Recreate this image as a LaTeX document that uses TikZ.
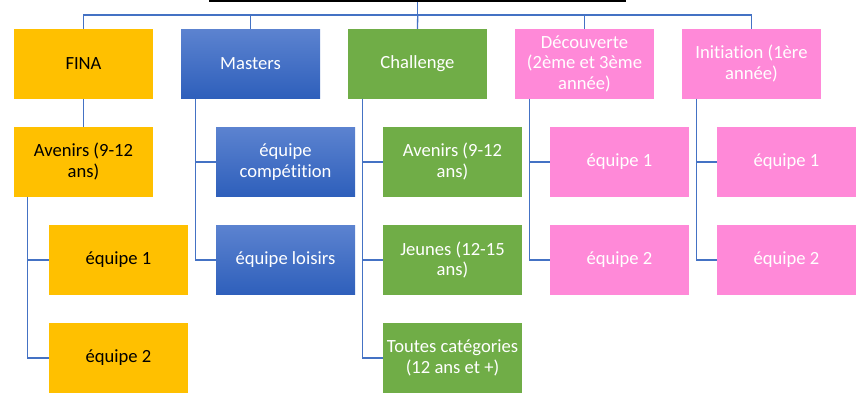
\documentclass[tikz,border=0pt]{standalone}
\usepackage{fontspec}
\setmainfont{Carlito}[Ligatures=NoCommon]
\definecolor{gold}{RGB}{255,192,0}
\definecolor{grn}{RGB}{112,173,71}
\definecolor{pnk}{RGB}{255,137,216}
\definecolor{bluetop}{RGB}{92,131,208}
\definecolor{bluebot}{RGB}{46,95,187}
\definecolor{linec}{RGB}{68,114,196}
\tikzset{
  box/.style={rectangle, minimum width=139pt, minimum height=69.7pt, inner sep=0pt,
    align=center, font=\fontsize{18.6}{20.8}\selectfont},
  finabox/.style={box, fill=gold, text=black},
  mastbox/.style={box, top color=bluetop, bottom color=bluebot, text=white},
  chalbox/.style={box, fill=grn, text=white},
  pinkbox/.style={box, fill=pnk, text=white},
  conn/.style={draw=linec, line width=1.3pt},
}
\begin{document}
\begin{tikzpicture}[x=1pt,y=-1pt]
\useasboundingbox (0,0) rectangle (866,397);
% cropped root box bottom edge
\fill[black] (209,0) rectangle (626,1.8);
\coordinate (root) at (417.7,1.8);
\coordinate (bus) at (417.7,15);

% level 1
\node[finabox] (fina) at (83.5,63.85) {FINA};
\node[mastbox] (mast) at (250.5,63.85) {Masters};
\node[chalbox] (chal) at (417.5,63.85) {Challenge};
\node[pinkbox] (decv) at (584.5,63.85) {Découverte\\(2ème et 3ème\\année)};
\node[pinkbox] (init) at (751.5,63.85) {Initiation (1ère\\année)};

% FINA
\node[finabox] (fav) at (83.5,161.85) {Avenirs (9-12\\ans)};
\node[finabox] (fe1) at (118.5,260) {équipe 1};
\node[finabox] (fe2) at (118.5,357.85) {équipe 2};

% Masters
\node[mastbox] (mcomp) at (285.5,161.85) {équipe\\compétition};
\node[mastbox] (mlois) at (285.5,260) {équipe loisirs};

% Challenge
\node[chalbox] (cav) at (452.5,161.85) {Avenirs (9-12\\ans)};
\node[chalbox] (cje) at (452.5,260) {Jeunes (12-15\\ans)};
\node[chalbox] (cto) at (452.5,357.85) {Toutes catégories\\(12 ans et +)};

% Découverte
\node[pinkbox] (de1) at (619.5,161.85) {équipe 1};
\node[pinkbox] (de2) at (619.5,260) {équipe 2};

% Initiation
\node[pinkbox] (ie1) at (786.5,161.85) {équipe 1};
\node[pinkbox] (ie2) at (786.5,260) {équipe 2};

% connectors from root
\draw[conn] (root) -- (bus);
\draw[conn] (bus) -| (fina.north);
\draw[conn] (bus) -| (mast.north);
\draw[conn] (bus) -- (chal.north);
\draw[conn] (bus) -| (decv.north);
\draw[conn] (bus) -| (init.north);

% FINA chain
\draw[conn] (fina.south) -- (fav.north);
\draw[conn] ([xshift=14pt]fav.south west) |- (fe1.west);
\draw[conn] ([xshift=14pt]fav.south west) |- (fe2.west);

% Masters
\draw[conn] ([xshift=14.5pt]mast.south west) |- (mcomp.west);
\draw[conn] ([xshift=14.5pt]mast.south west) |- (mlois.west);

% Challenge
\draw[conn] ([xshift=14.5pt]chal.south west) |- (cav.west);
\draw[conn] ([xshift=14.5pt]chal.south west) |- (cje.west);
\draw[conn] ([xshift=14.5pt]chal.south west) |- (cto.west);

% Découverte
\draw[conn] ([xshift=14.5pt]decv.south west) |- (de1.west);
\draw[conn] ([xshift=14.5pt]decv.south west) |- (de2.west);

% Initiation
\draw[conn] ([xshift=14.5pt]init.south west) |- (ie1.west);
\draw[conn] ([xshift=14.5pt]init.south west) |- (ie2.west);
\end{tikzpicture}
\end{document}
